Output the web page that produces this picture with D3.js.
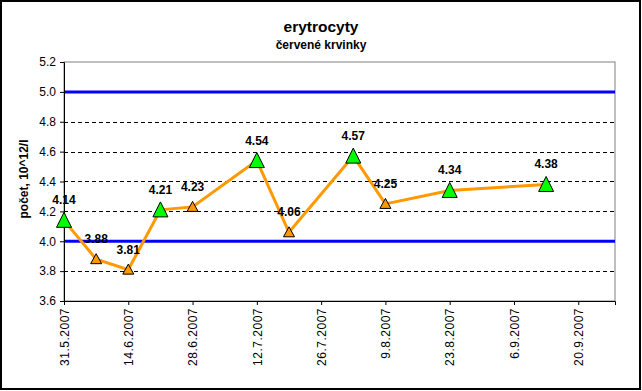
<!DOCTYPE html>
<html><head><meta charset="utf-8">
<script src="https://cdn.jsdelivr.net/npm/d3@7/dist/d3.min.js"></script>
<style>body{margin:0;background:#fff;}svg{display:block;font-family:"Liberation Sans",Arial,sans-serif;}</style>
</head><body>
<svg id="c" width="642" height="391"></svg>
<script>
const dates = ["31.5.2007","7.6.2007","14.6.2007","21.6.2007","28.6.2007","12.7.2007","19.7.2007","2.8.2007","9.8.2007","23.8.2007","13.9.2007"];
const values = [4.14,3.88,3.81,4.21,4.23,4.54,4.06,4.57,4.25,4.34,4.38];
const markerKinds = ["green","orange","orange","green","orange","green","orange","green","orange","green","green"];
const xTickLabels = ["31.5.2007","14.6.2007","28.6.2007","12.7.2007","26.7.2007","9.8.2007","23.8.2007","6.9.2007","20.9.2007"];
const yTicks = [3.6,3.8,4.0,4.2,4.4,4.6,4.8,5.0,5.2];
const limits = [4.0,5.0];
const title = "erytrocyty", subtitle = "červené krvinky", yTitle = "počet, 10^12/l";

const parse = d3.timeParse("%d.%m.%Y");
const svg = d3.select("#c");
const L=64,R=615,T=62,B=301;
const x = d3.scaleTime().domain([parse("31.5.2007"), parse("28.9.2007")]).range([L,R]);
const y = d3.scaleLinear().domain([3.6,5.2]).range([B,T]);

svg.append("rect").attr("x",1).attr("y",1).attr("width",639).attr("height",388).attr("fill","#fff").attr("stroke","#000").attr("stroke-width",2);

// plot border
svg.append("rect").attr("x",L).attr("y",T).attr("width",R-L).attr("height",B-T).attr("fill","#fff").attr("stroke","#808080").attr("stroke-width",1);

// gridlines
svg.append("g").selectAll("line").data(yTicks.filter(v=>v>3.6 && v<5.2 && !limits.includes(v))).join("line")
  .attr("x1",L).attr("x2",R).attr("y1",d=>Math.round(y(d))+0.5).attr("y2",d=>Math.round(y(d))+0.5)
  .attr("stroke","#000").attr("stroke-dasharray","4,3").attr("stroke-width",1);

// limit lines
svg.append("g").selectAll("line").data(limits).join("line")
  .attr("x1",L).attr("x2",R).attr("y1",d=>y(d)).attr("y2",d=>y(d))
  .attr("stroke","#0000ff").attr("stroke-width",3);

// axes
const yAxis = d3.axisLeft(y).tickValues(yTicks).tickFormat(d3.format(".1f")).tickSize(4).tickPadding(4);
const gy = svg.append("g").attr("transform",`translate(${L},0)`).call(yAxis);
gy.select(".domain").attr("stroke","#000");
gy.selectAll("text").attr("font-size",12).attr("fill","#000").style("font-family","Liberation Sans, Arial");

const xAxis = d3.axisBottom(x).tickValues(xTickLabels.map(parse)).tickFormat(d3.timeFormat("%-d.%-m.%Y")).tickSize(4).tickPadding(4);
const gx = svg.append("g").attr("transform",`translate(0,${B})`).call(xAxis);
gx.select(".domain").attr("stroke","#000");
gx.selectAll("text").attr("font-size",12).attr("fill","#000").style("font-family","Liberation Sans, Arial")
  .style("letter-spacing","0.5px")
  .attr("text-anchor","end").attr("transform","rotate(-90)").attr("x",-7).attr("y",0).attr("dy","0.35em");

// line
const pts = dates.map((d,i)=>({d:parse(d),v:values[i],k:markerKinds[i]}));
svg.append("path").datum(pts).attr("fill","none").attr("stroke","#ff9900").attr("stroke-width",3)
  .attr("d",d3.line().x(p=>x(p.d)).y(p=>y(p.v)));

// markers
svg.append("g").selectAll("path").data(pts).join("path")
  .attr("transform",p=>`translate(${x(p.d)},${y(p.v)})`)
  .attr("d",p=>p.k==="green" ? "M0,-8L7.5,7L-7.5,7Z" : "M0,-5.5L5.5,4.5L-5.5,4.5Z")
  .attr("fill",p=>p.k==="green"?"#00ff00":"#ff9900").attr("stroke","#000").attr("stroke-width",1);

// labels
svg.append("g").selectAll("text").data(pts).join("text")
  .attr("x",p=>x(p.d)).attr("y",p=>y(p.v)-16).attr("text-anchor","middle")
  .attr("font-size",12).attr("font-weight","bold").attr("fill","#000").text(p=>p.v.toFixed(2));

// titles
svg.append("text").attr("x",321).attr("y",32).attr("text-anchor","middle").attr("font-size",15.5).attr("font-weight","bold").text(title);
svg.append("text").attr("x",321).attr("y",49).attr("text-anchor","middle").attr("font-size",12).attr("font-weight","bold").text(subtitle);
svg.append("text").attr("transform",`translate(28,179) rotate(-90)`).attr("text-anchor","middle").attr("font-size",12).attr("font-weight","bold").text(yTitle);
</script>
</body></html>
